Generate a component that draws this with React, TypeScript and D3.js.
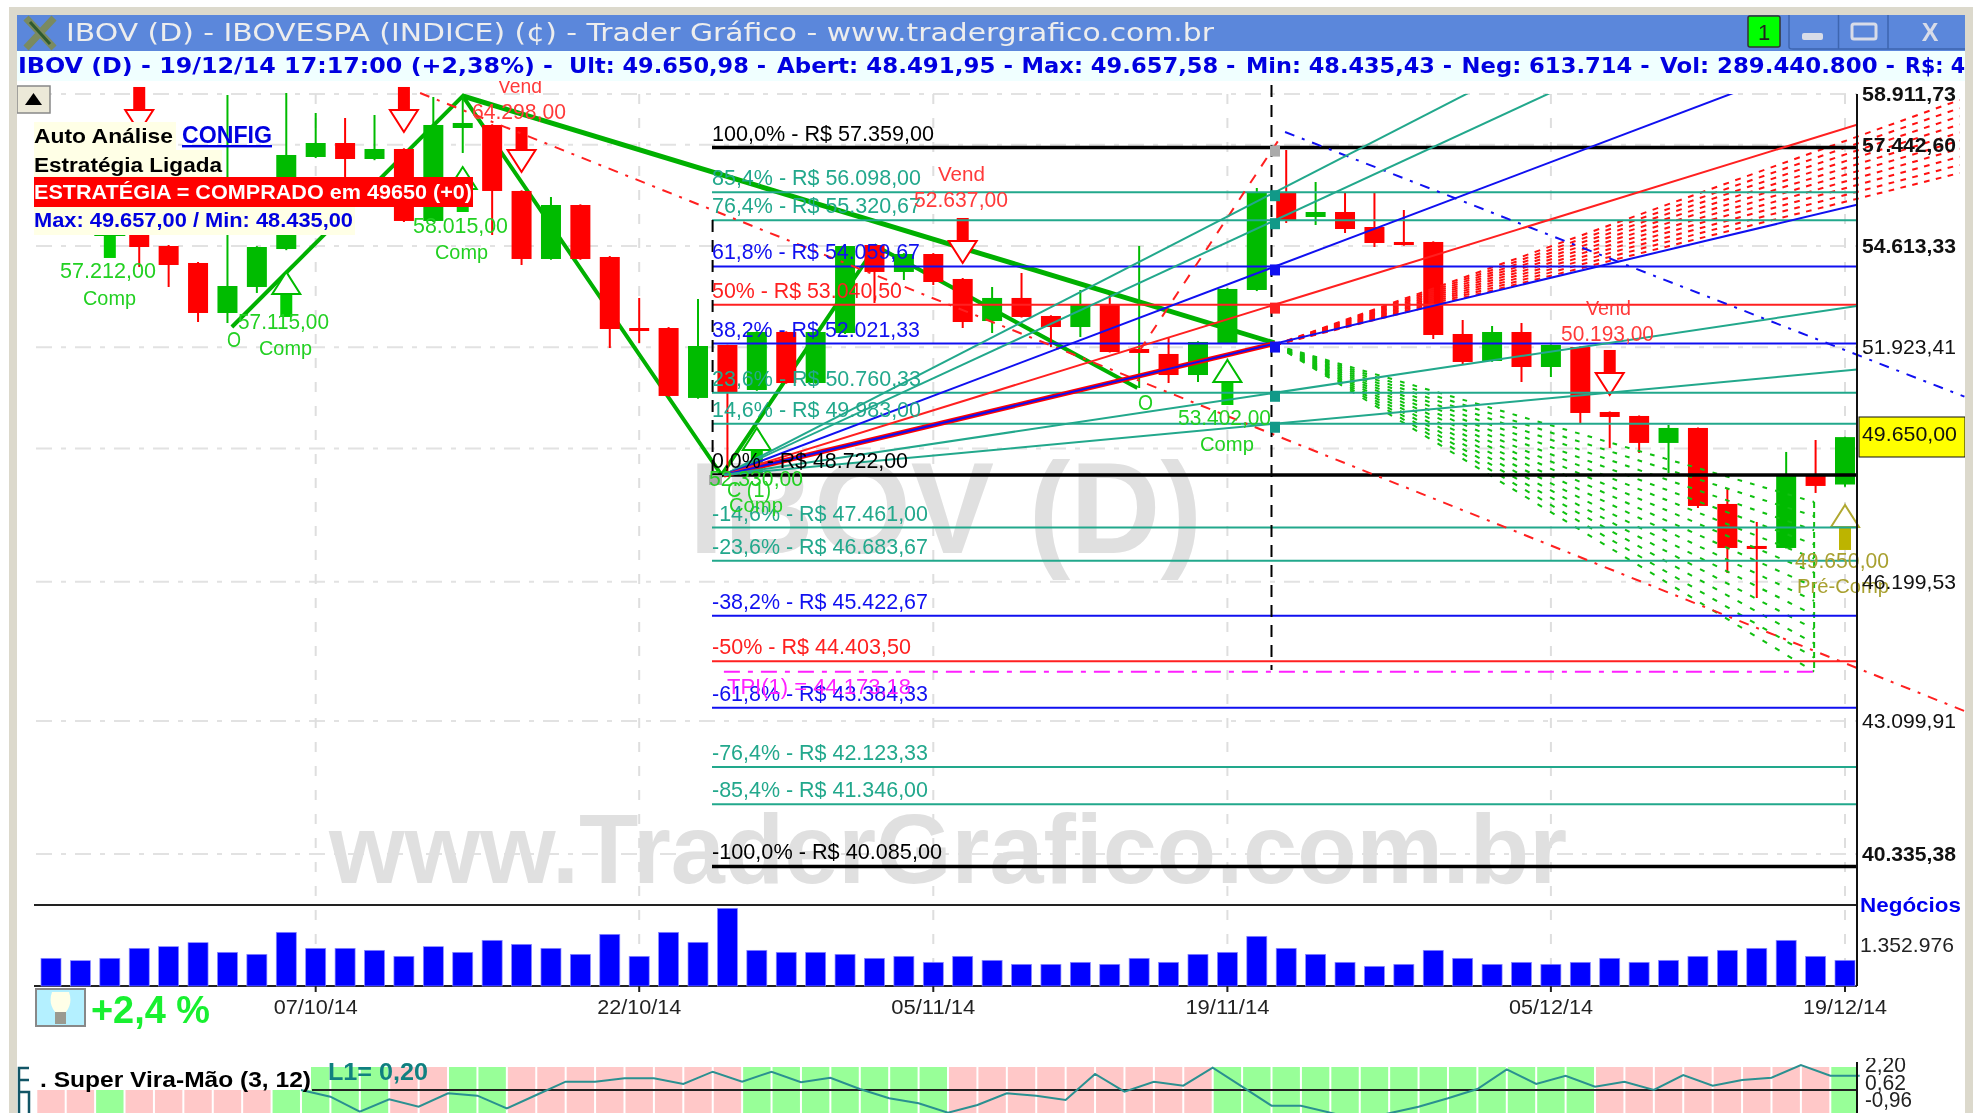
import React from "react";
import * as d3 from "d3";

// ---------- data ----------
const opens = [56020,56600,55770,54968,54613,54153,52820,53509,54531,57091,57490,57034,57319,55299,57922,58009,56132,54261,55741,54315,52426,52426,50630,51984,50831,52322,51008,52296,54640,53911,54396,53723,52609,53217,52741,52452,53032,51881,51752,51212,52036,53429,56076,55409,55547,55133,54723,54723,52270,51571,52322,51417,51932,50277,50177,49507,49878,48024,47029,46982,48699,48491.95];
const closes = [56860,56050,56300,54586,54099,52820,53535,54586,57148,57490,57034,57319,55299,58009,58067,56132,54261,55741,54261,52400,52374,50680,51958,50755,52322,51008,52322,54613,53911,54396,53642,52583,53217,52715,52452,53032,51803,51778,51212,52062,53456,56104,55326,55547,55078,54695,54640,52244,51546,52322,51417,51984,50252,50152,49507,49878,47976,46982,46982,48723,48457,49650.98];
const highs = [57290,56900,56600,55188,54640,54180,58883,54610,58941,58357,58212,58299,57340,58824,58883,58030,56150,55964,55760,54340,53217,52450,53190,51990,52340,52340,52340,54640,54660,54420,54420,53750,53509,53884,52760,53429,53296,54613,52192,52080,53480,56216,57290,56384,56076,56076,55603,54740,52636,52479,52557,52000,51950,50290,50190,49952,49890,48408,47595,49285,49580,49657.58];
const lows = [55880,55900,55600,54045,53509,52583,52557,53350,54500,57060,56525,57000,55270,55270,57205,54914,54099,54240,54240,51906,52036,50660,50610,48771,50810,50990,50990,52270,53084,53696,53562,52426,52296,52700,51932,52192,51790,50882,51008,51034,52020,53400,55244,55188,54968,54586,54620,52140,51468,51550,51034,51161,50002,49384,49261,48771,47928,46400,45825,46970,48288,48435.43];
const greenWickCandles = [37];
const volumes = [913000,836000,913000,1243000,1298000,1430000,1111000,1045000,1771000,1243000,1243000,1177000,979000,1298000,1111000,1507000,1375000,1243000,1045000,1705000,979000,1771000,1441000,2563000,1177000,1111000,1111000,1045000,913000,979000,781000,979000,847000,715000,715000,781000,715000,913000,781000,1045000,1111000,1639000,1243000,1045000,781000,649000,715000,1177000,913000,715000,781000,715000,781000,913000,781000,847000,979000,1177000,1243000,1507000,979000,847000];
const viraCells = "PPGPPPPPGGGGPPGGPPPPPPPPGGGGGGGPPPPPPPPPGGGGGGGGGGGGGPPPPPPPPG";
const viraStartIndex = 8;
const viraValues = [0,-0.67,-2.17,-0.93,-1.67,-0.33,-0.57,-1.83,-0.5,0.83,0.83,1.17,1.17,0.6,1.83,0.83,1.83,0.77,1.23,0.1,-0.83,-1.33,-2.27,-1.5,-0.33,-0.57,-1,1.6,-0.17,0.83,0.43,2.23,0.33,-1.57,-1.57,-2.27,-3,-2.33,-1.67,-0.83,0.1,2.07,0.6,1.43,0.33,0.83,0,1.5,0.43,1,1.23,2.5,1.43,1.43];

const dateTicks = [[9,"07/10/14"],[20,"22/10/14"],[30,"05/11/14"],[40,"19/11/14"],[51,"05/12/14"],[61,"19/12/14"]] as [number,string][];
const priceTicks = [[58911.73,"58.911,73",true],[57442.6,"57.442,60",true],[54613.33,"54.613,33",true],[51923.41,"51.923,41",false],[46199.53,"46.199,53",false],[43099.91,"43.099,91",false],[40335.38,"40.335,38",true]] as [number,string,boolean][];
const hiddenGridPrice = 49372;

const fibLevels = [
  ["100,0%",57359,"57.359,00","k"],["85,4%",56098,"56.098,00","t"],["76,4%",55320.67,"55.320,67","t"],
  ["61,8%",54059.67,"54.059,67","b"],["50%",53040.5,"53.040,50","r"],["38,2%",52021.33,"52.021,33","b"],
  ["23,6%",50760.33,"50.760,33","t"],["14,6%",49983,"49.983,00","t"],["0,0%",48722,"48.722,00","k"],
  ["-14,6%",47461,"47.461,00","t"],["-23,6%",46683.67,"46.683,67","t"],["-38,2%",45422.67,"45.422,67","b"],
  ["-50%",44403.5,"44.403,50","r"],["-61,8%",43384.33,"43.384,33","b"],["-76,4%",42123.33,"42.123,33","t"],
  ["-85,4%",41346,"41.346,00","t"],["-100,0%",40085,"40.085,00","k"],
] as [string,number,string,string][];
const fanPrices = [[56098,"t"],[55320.67,"t"],[54059.67,"b"],[53040.5,"r"],[52021.33,"b"],[50760.33,"t"],[49983,"t"]] as [number,string][];
const fanOrigin = [22.88,48722];
const fanEndIndex = 41.62;
const zigzag = [[6.15,52452],[14,58853],[22.8,48722],[28.05,54613],[36.94,50882]];
const longGreen = [[14,58853],[41.6,52036]];
const redDashLong = [[12.55,58941],[65.06,43316]];
const blueDashLong = [[41.96,57807],[65.06,50663]];
const redDashSteep = [[37.03,51855],[41.72,57547]];
const apex = [41.62,51984];
const redWedge = [[64.9,58736],[64.9,56637]];
const greenWedge = [[59.95,48072],[59.95,44173.18]];
const tpPrice = 44173.18;
const downArrows = [[3,57807],[12,57807],[16,56665],[31,54153],[53,50705]];
const upArrows = [[2,55520],[8,53911],[14,56807],[24,49878],[40,51597]];
const preArrow = [61,48000];
const infoSegments = [
  ["IBOV (D) - 19/12/14 17:17:00 (+2,38%) -",18,535],["Ult: 49.650,98 -",569,197],["Abert: 48.491,95 -",777,236],
  ["Max: 49.657,58 -",1021.5,214],["Min: 48.435,43 -",1246,206],["Neg: 613.714 -",1461.6,188],
  ["Vol: 289.440.800 -",1660,235],["R$: 4",1905,60],
] as [string,number,number][];

// ---------- scales ----------
const X = d3.scaleLinear().domain([0, 61]).range([51, 1845]);
const Y = d3.scaleLog().domain([40335.38, 58911.73]).range([854, 94]);
const V = d3.scaleLinear().domain([0, 1352976]).range([986, 945]);
const I = d3.scaleLinear().domain([0, 2.2]).range([1090, 1068]);
const pt = (d: number[]) => [X(d[0]), Y(d[1])] as [number, number];
const lineGen = d3.line();
const STEP = X(1) - X(0);
const colors: Record<string,string> = { k: "#000000", t: "#22A88C", b: "#1010F0", r: "#FF2020" };
const RED = "#FF0000", GREEN = "#00BB00", LABEL_G = "#22D022", LABEL_R = "#FF3A3A";
const SANS = "'Liberation Sans', Arial, sans-serif";
const DEJA = "'DejaVu Sans', sans-serif";

function Txt({ x, y, s = 22, w, fill = "#000", b = false, a = "start", font = SANS, dec, children, op }: any) {
  return (
    <text x={x} y={y} fontSize={s} fill={fill} fontWeight={b ? 700 : 400} textAnchor={a} fontFamily={font} opacity={op}
      textDecoration={dec} {...(w ? { textLength: w, lengthAdjust: "spacingAndGlyphs" } : {})}>{children}</text>
  );
}

function Arrow({ d, dir, stroke, fill }: any) {
  const [x, y] = pt(d);
  const s = dir === "down" ? -1 : 1;
  const head = `M${x},${y}L${x - 14},${y + s * 22}L${x + 14},${y + s * 22}Z`;
  return (
    <g>
      <rect x={x - 6} width={12} y={s > 0 ? y + 22 : y - 45} height={23} fill={fill} />
      <path d={head} fill="#fff" stroke={stroke} strokeWidth={2} />
    </g>
  );
}

function rays(a: number[], ends: number[][], n: number, color: string, period: number, dash: number) {
  const [ax, ay] = pt(a);
  const [ux, uy] = pt(ends[0]);
  const [, ly] = pt(ends[1]);
  return d3.range(n).map((k) => {
    const ey = uy + ((ly - uy) * k) / (n - 1);
    const m = (ey - ay) / (ux - ax);
    const f = Math.sqrt(1 + m * m);
    return (
      <path key={k} d={lineGen([[ax, ay], [ux, ey]]) as string} fill="none" stroke={color} strokeWidth={2}
        strokeDasharray={`${dash * f} ${(period - dash) * f}`} />
    );
  });
}

export default function App() {
  const n = closes.length;
  const [ox, oy] = pt(fanOrigin);
  const axisX = 1857;
  const idxs = d3.range(n);
  const viraPath = lineGen(viraValues.map((v, k) => [X(k + viraStartIndex) + STEP / 2, I(v)])) as string;
  const fibWidths = [222,209,209,208,190,208,209,209,196,216,216,216,199,216,216,216,230];
  const squareCols = ["#AAAAAA","#119988","#119988","#1010F0","#FF2020","#1010F0","#119988","#119988"];
  const squareLevels = [57359,56098,55320.67,54059.67,53040.5,52021.33,50760.33,49983];

  return (
    <svg width={1981} height={1113} viewBox="0 0 1981 1113"
      style={{ position: "fixed", left: 0, top: 0, background: "#fff", filter: "blur(0.6px)", display: "block" }}>
      <defs>
        <clipPath id="plot"><rect x={34} y={94} width={axisX - 34} height={900} /></clipPath>
        <clipPath id="pane"><rect x={17} y={85} width={1948} height={820} /></clipPath>
      </defs>

      {/* grid */}
      {[...priceTicks.map((p) => p[0]), hiddenGridPrice].map((p) => (
        <line key={p} x1={36} x2={axisX} y1={Y(p)} y2={Y(p)} stroke="#E2E2E2" strokeWidth={2} strokeDasharray="16 9 5 9" />
      ))}
      {dateTicks.map(([i]) => (
        <line key={i} x1={X(i)} x2={X(i)} y1={94} y2={986} stroke="#DEDEDE" strokeWidth={2} strokeDasharray="10 14" />
      ))}

      {/* watermarks */}
      <Txt x={689} y={553} s={130} b w={513} fill="#E0E0E0">IBOV (D)</Txt>
      <Txt x={329} y={883} s={98} b w={1238} fill="#E0E0E0">www.TraderGrafico.com.br</Txt>

      {/* zigzag */}
      <path d={lineGen(zigzag.map(pt)) as string} fill="none" stroke="#00B000" strokeWidth={4} />
      <path d={lineGen(longGreen.map(pt)) as string} fill="none" stroke="#00B000" strokeWidth={5} />

      {/* candles */}
      <g clipPath="url(#pane)">
        {idxs.map((i) => {
          const up = closes[i] >= opens[i];
          const c = up ? GREEN : RED;
          const wick = greenWickCandles.includes(i) ? GREEN : c;
          const top = Y(Math.max(opens[i], closes[i]));
          const bot = Y(Math.min(opens[i], closes[i]));
          return (
            <g key={i}>
              <line x1={X(i)} x2={X(i)} y1={Y(highs[i])} y2={Y(lows[i])} stroke={wick} strokeWidth={2} />
              <rect x={X(i) - 10} width={20} y={top} height={Math.max(bot - top, 3)} fill={c} />
            </g>
          );
        })}
      </g>

      {/* arrows */}
      {downArrows.map((d) => <Arrow key={d[0]} d={d} dir="down" stroke="#FF0000" fill="#FF0000" />)}
      {upArrows.map((d) => <Arrow key={d[0]} d={d} dir="up" stroke="#00BB00" fill="#00CC00" />)}
      <Arrow d={preArrow} dir="up" stroke="#B0A830" fill="#BDB400" />

      {/* hatches */}
      {rays(apex, redWedge, 10, "#FF1010", 11.8, 5.5)}
      {rays(apex, greenWedge, 13, "#10C010", 12.5, 4.5)}
      <line x1={X(greenWedge[0][0])} x2={X(greenWedge[0][0])} y1={Y(greenWedge[0][1])} y2={Y(greenWedge[1][1])}
        stroke="#10C010" strokeWidth={2} strokeDasharray="6 4" />

      {/* fib lines */}
      {fibLevels.map(([, p, , c]) => (
        <line key={p} x1={712} x2={axisX} y1={Y(p)} y2={Y(p)} stroke={colors[c]} strokeWidth={c === "k" ? 3.5 : 2} />
      ))}

      {/* long dashed lines */}
      <path d={lineGen(redDashLong.map(pt)) as string} fill="none" stroke="#FF2020" strokeWidth={2} strokeDasharray="10 8 3 8" />
      <path d={lineGen(blueDashLong.map(pt)) as string} fill="none" stroke="#1010F0" strokeWidth={2} strokeDasharray="10 8 3 8" />
      <path d={lineGen(redDashSteep.map(pt)) as string} fill="none" stroke="#FF2020" strokeWidth={2} strokeDasharray="10 10" />

      {/* fan */}
      <g clipPath="url(#plot)">
        {(() => {
          const mid = fanPrices[4];
          const [mx, my] = pt([fanEndIndex, mid[0]]);
          return <line x1={ox} y1={oy} x2={mx} y2={my} stroke="#FF0000" strokeWidth={5} />;
        })()}
        {fanPrices.map(([p, c]) => {
          const [ex, ey] = pt([fanEndIndex, p]);
          const m = (ey - oy) / (ex - ox);
          return <line key={p} x1={ox} y1={oy} x2={axisX} y2={oy + m * (axisX - ox)} stroke={colors[c]} strokeWidth={2} />;
        })}
      </g>

      {/* cursor dashes, tp line, squares */}
      <line x1={1271.5} x2={1271.5} y1={85} y2={670} stroke="#000" strokeWidth={2} strokeDasharray="12 8" />
      <line x1={712.6} x2={712.6} y1={220} y2={475} stroke="#000" strokeWidth={2} strokeDasharray="12 8" />
      <line x1={X(fanOrigin[0])} x2={X(greenWedge[0][0])} y1={Y(tpPrice)} y2={Y(tpPrice)} stroke="#FF20FF" strokeWidth={2} strokeDasharray="16 8 5 8" />
      {squareLevels.map((p, k) => (
        <rect key={p} x={1270} y={Y(p) - 2} width={10} height={11} fill={squareCols[k]} />
      ))}
      <rect x={709} y={Y(48722)} width={13} height={10} fill="#AAAAAA" />

      {/* fib labels */}
      {fibLevels.map(([pc, p, txt, c], k) => (
        <Txt key={pc} x={712} y={Y(p) - 7} w={fibWidths[k]} fill={colors[c]}>{`${pc} - R$ ${txt}`}</Txt>
      ))}
      <Txt x={727} y={694} w={184} fill="#FF20FF">TPI(1) = 44.173,18</Txt>

      {/* signal labels */}
      <Txt x={60} y={278} w={96} fill={LABEL_G}>57.212,00</Txt>
      <Txt x={83} y={305} w={53} s={20} fill={LABEL_G}>Comp</Txt>
      <Txt x={238} y={329} w={91} fill={LABEL_G}>57.115,00</Txt>
      <Txt x={259} y={355} w={53} s={20} fill={LABEL_G}>Comp</Txt>
      <Txt x={227} y={347} w={14} fill={LABEL_G}>O</Txt>
      <Txt x={413} y={233} w={95} fill={LABEL_G}>58.015,00</Txt>
      <Txt x={435} y={259} w={53} s={20} fill={LABEL_G}>Comp</Txt>
      <Txt x={1178} y={425} w={93} fill={LABEL_G}>53.402,00</Txt>
      <Txt x={1200} y={451} w={54} s={20} fill={LABEL_G}>Comp</Txt>
      <Txt x={1138} y={410} w={15} fill={LABEL_G}>O</Txt>
      <Txt x={709} y={486} w={94} fill={LABEL_G}>52.330,00</Txt>
      <Txt x={727} y={497} w={44} fill={LABEL_G}>C (1)</Txt>
      <Txt x={729} y={512} w={54} s={20} fill={LABEL_G}>Comp</Txt>
      <Txt x={498} y={93} w={44} s={20} fill={LABEL_R}>Vend</Txt>
      <Txt x={472} y={119} w={94} fill={LABEL_R}>64.298,00</Txt>
      <Txt x={938} y={181} w={47} s={20} fill={LABEL_R}>Vend</Txt>
      <Txt x={914} y={207} w={94} fill={LABEL_R}>52.637,00</Txt>
      <Txt x={1586} y={315} w={45} s={20} fill={LABEL_R}>Vend</Txt>
      <Txt x={1561} y={341} w={93} fill={LABEL_R}>50.193,00</Txt>
      <Txt x={1795} y={568} w={94} fill="#A8A030">49.650,00</Txt>
      <Txt x={1797} y={593} w={92} s={20} fill="#A8A030">Pré-Comp</Txt>

      {/* info box */}
      <rect x={34} y={122} width={142} height={28} fill="#FFFFE6" />
      <rect x={34} y={150} width={188} height={27} fill="#FFFFE6" />
      <rect x={34} y={207} width={321} height={28} fill="#FFFFE6" />
      <rect x={34} y={177} width={439} height={30} fill="#FF0000" />
      <Txt x={34} y={143} s={21} w={139} b>Auto Análise</Txt>
      <Txt x={182} y={143} s={24} w={90} b fill="#0000E0" dec="underline">CONFIG</Txt>
      <Txt x={34} y={172} s={20} w={188} b>Estratégia Ligada</Txt>
      <Txt x={34} y={199} s={20} w={438} b fill="#fff">ESTRATÉGIA = COMPRADO em 49650 (+0)</Txt>
      <Txt x={34} y={227} s={20} w={319} b fill="#0000E0">Max: 49.657,00 / Min: 48.435,00</Txt>
      <rect x={17} y={86} width={33} height={27} fill="#ECE9D8" stroke="#888" strokeWidth={1.5} />
      <path d="M25,105L42,105L33.5,93Z" fill="#000" />

      {/* volume */}
      <line x1={34} x2={axisX} y1={905} y2={905} stroke="#222" strokeWidth={2} />
      <line x1={34} x2={axisX} y1={986} y2={986} stroke="#222" strokeWidth={2} />
      {volumes.map((v, i) => (
        <rect key={i} x={X(i) - 10} width={20} y={V(v)} height={986 - V(v)} fill="#0000FF" stroke="#8C8CFF" strokeWidth={0.7} />
      ))}
      {dateTicks.map(([i, t]) => (
        <g key={i}>
          <line x1={X(i)} x2={X(i)} y1={986} y2={992} stroke="#222" strokeWidth={2} />
          <Txt x={X(i)} y={1014} s={20} w={84} a="middle" fill="#222">{t}</Txt>
        </g>
      ))}

      {/* lamp and percent */}
      <rect x={36} y={989} width={49} height={37} fill="#B4F0FF" stroke="#888" strokeWidth={2} />
      <path d="M52,992Q48,1003 55,1012L55,1024L66,1024L66,1012Q73,1003 69,992Z" fill="#FFFFE8" />
      <rect x={55} y={1012} width={11} height={12} fill="#9A9A90" />
      <Txt x={91} y={1023} s={38} w={119} b fill="#18F030">+2,4 %</Txt>

      {/* indicator pane */}
      {idxs.map((i) => {
        const left = X(i) - STEP / 2 + 1;
        return (
          <rect key={i} x={left} width={Math.min(STEP - 2, axisX - left)} y={1067} height={46}
            fill={viraCells[i] === "G" ? "#98FF98" : "#FFC8C8"} />
        );
      })}
      <rect x={34} y={1060} width={277} height={30} fill="#fff" />
      <line x1={312} x2={axisX} y1={I(0)} y2={I(0)} stroke="#222" strokeWidth={2} />
      <path d={viraPath} fill="none" stroke="#2A9090" strokeWidth={2} />
      <Txt x={40} y={1087} s={22} w={271} b>. Super Vira-Mão (3, 12)</Txt>
      <Txt x={328} y={1080} s={23} w={100} fill="#108080" b>L1= 0,20</Txt>
      <path d="M29,1068L19,1068L19,1113M19,1080L29,1080M19,1092L29,1092L29,1113" fill="none" stroke="#115566" strokeWidth={2.5} />
      <Txt x={1865} y={1072} s={22} w={41} fill="#222">2,20</Txt>
      <Txt x={1865} y={1090} s={22} w={41} fill="#222">0,62</Txt>
      <Txt x={1865} y={1107} s={22} w={47} fill="#222">-0,96</Txt>
      <Txt x={1865} y={1128} s={22} w={47} fill="#222">-2,54</Txt>
      <rect x={1858} y={1040} width={107} height={18} fill="#fff" />

      {/* axis */}
      <line x1={axisX} x2={axisX} y1={94} y2={986} stroke="#111" strokeWidth={2} />
      <line x1={axisX} x2={axisX} y1={1062} y2={1113} stroke="#111" strokeWidth={2} />
      {priceTicks.map(([p, t, b]) => (
        <Txt key={p} x={1862} y={Y(p) + 7} s={21} w={94} b={b} fill="#111">{t}</Txt>
      ))}
      <rect x={1859} y={417} width={106} height={40} fill="#FFFF00" stroke="#111" strokeWidth={1} />
      <Txt x={1862} y={441} s={21} w={95} fill="#111">49.650,00</Txt>
      <Txt x={1860} y={912} s={21} w={101} b fill="#0000F0">Negócios</Txt>
      <Txt x={1860} y={952} s={21} w={94} fill="#222">1.352.976</Txt>

      {/* window chrome */}
      <rect x={9} y={7} width={1964} height={8} fill="#DCD9CC" />
      <rect x={9} y={7} width={8} height={1106} fill="#DCD9CC" />
      <rect x={1965} y={7} width={8} height={1106} fill="#DCD9CC" />
      <rect x={17} y={15} width={1948} height={36} fill="#5B87DB" />
      <rect x={17} y={51} width={1948} height={30} fill="#F0FFFF" />
      <path d="M26,18L54,48M54,18L26,48" stroke="#7A8A60" strokeWidth={7} />
      <path d="M30,22L50,44" stroke="#2E5A2E" strokeWidth={3} />
      <Txt x={66} y={41} s={25} w={1148} fill="#EDEDED" font={DEJA}>IBOV (D) - IBOVESPA (INDICE) (¢) - Trader Gráfico - www.tradergrafico.com.br</Txt>
      {infoSegments.map(([t, x, w]) => (
        <Txt key={t} x={x} y={73} s={21} w={w} b fill="#0000E0" font={DEJA}>{t}</Txt>
      ))}
      <rect x={1748} y={16} width={32} height={31} rx={2} fill="#00FF00" stroke="#333" strokeWidth={1.5} />
      <Txt x={1764} y={40} s={22} a="middle" fill="#222">1</Txt>
      <path d="M1789,15V47Q1789,49 1793,49H1965M1838.5,15V49M1888,15V49" fill="none" stroke="#3E66B0" strokeWidth={1.5} />
      <rect x={1802} y={33} width={21} height={7} rx={2} fill="#D8DCE8" />
      <rect x={1852} y={24} width={24} height={15} rx={2} fill="none" stroke="#D8DCE8" strokeWidth={3} />
      <Txt x={1930} y={41} s={25} b a="middle" fill="#D8DCE8">X</Txt>
    </svg>
  );
}
